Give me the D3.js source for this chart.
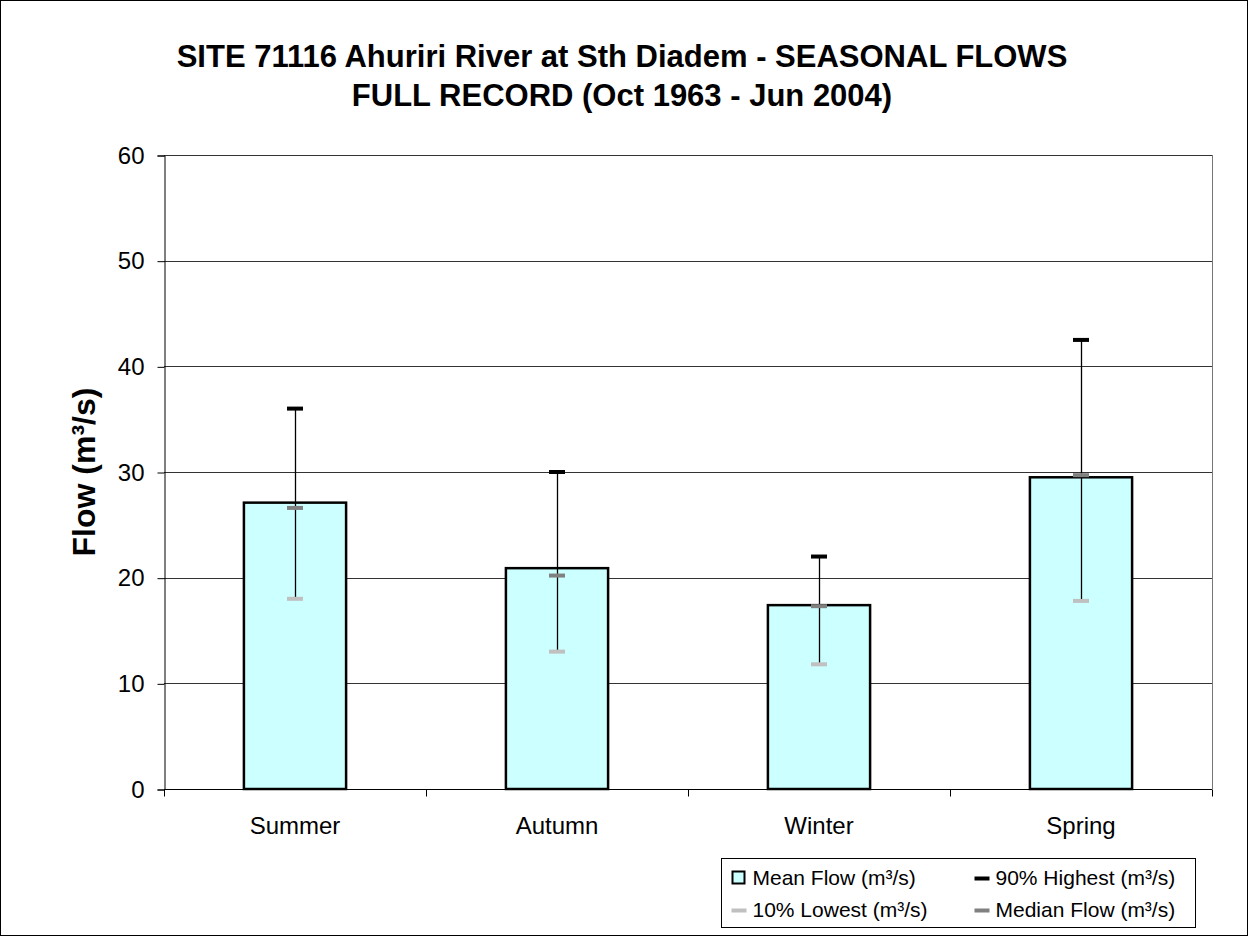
<!DOCTYPE html>
<html>
<head>
<meta charset="utf-8">
<script src="https://cdn.jsdelivr.net/npm/d3@7"></script>
<style>
  body { margin: 0; background: #fff; }
  text { font-family: Arial, "Liberation Sans", sans-serif; }
</style>
</head>
<body>
<div id="chart"></div>
<script>
// data
var seasons = ["Summer", "Autumn", "Winter", "Spring"];
var meanFlow = [27.1, 20.9, 17.4, 29.5];
var highest90 = [36.0, 30.0, 22.0, 42.5];
var lowest10 = [18.0, 13.0, 11.8, 17.8];
var medianFlow = [26.6, 20.2, 17.3, 29.7];
var yTicks = [0, 10, 20, 30, 40, 50, 60];

var W = 1248, H = 936;
var plot = { left: 164, right: 1212, top: 155, bottom: 789 };

var svg = d3.select("#chart").append("svg")
    .attr("width", W)
    .attr("height", H);

// outer frame
svg.append("rect")
    .attr("x", 0.5).attr("y", 0.5)
    .attr("width", W - 1).attr("height", H - 1)
    .attr("fill", "#fff").attr("stroke", "#000");

var x = d3.scaleBand()
    .domain(seasons)
    .range([plot.left, plot.right])
    .paddingInner(0.61)
    .paddingOuter(0.305);

var xCat = d3.scaleBand()
    .domain(seasons)
    .range([plot.left, plot.right]);

var y = d3.scaleLinear()
    .domain([0, 60])
    .range([plot.bottom, plot.top]);

// title
var title = svg.append("text")
    .attr("text-anchor", "middle")
    .attr("font-weight", "bold")
    .attr("font-size", 31);
title.append("tspan").attr("x", 622).attr("y", 67)
    .text("SITE 71116 Ahuriri River at Sth Diadem - SEASONAL FLOWS");
title.append("tspan").attr("x", 622).attr("y", 106)
    .text("FULL RECORD (Oct 1963 - Jun 2004)");

// gridlines
svg.append("g")
    .selectAll("line")
    .data(yTicks.filter(function(d) { return d > 0; }))
    .join("line")
    .attr("x1", plot.left).attr("x2", plot.right)
    .attr("y1", function(d) { return Math.round(y(d)) + 0.5; })
    .attr("y2", function(d) { return Math.round(y(d)) + 0.5; })
    .attr("stroke", "#333").attr("stroke-width", 1);

// right border of plot area
svg.append("line")
    .attr("x1", plot.right + 0.5).attr("x2", plot.right + 0.5)
    .attr("y1", plot.top).attr("y2", plot.bottom)
    .attr("stroke", "#777");

// y axis
var yAxis = svg.append("g")
    .attr("transform", "translate(" + (plot.left + 0.5) + ",0.5)")
    .call(d3.axisLeft(y).tickValues(yTicks).tickSize(7).tickPadding(13));
yAxis.select(".domain").attr("stroke", "#000");
yAxis.selectAll("text").attr("font-size", 24).attr("fill", "#000");

// y axis label
svg.append("text")
    .attr("transform", "translate(95," + ((plot.top + plot.bottom) / 2) + ") rotate(-90)")
    .attr("text-anchor", "middle")
    .attr("font-weight", "bold")
    .attr("font-size", 32)
    .text("Flow (m³/s)");

// bars
svg.append("g")
    .selectAll("rect")
    .data(seasons)
    .join("rect")
    .attr("x", function(d) { return x(d); })
    .attr("y", function(d, i) { return y(meanFlow[i]); })
    .attr("width", x.bandwidth())
    .attr("height", function(d, i) { return y(0) - y(meanFlow[i]); })
    .attr("fill", "#ccffff")
    .attr("stroke", "#000")
    .attr("stroke-width", 2.5);

// x axis
var xAxis = svg.append("g")
    .attr("transform", "translate(0," + (plot.bottom + 0.5) + ")");
xAxis.append("line")
    .attr("x1", plot.left).attr("x2", plot.right)
    .attr("stroke", "#000");
xAxis.selectAll(".tk")
    .data(seasons.concat(["end"]))
    .join("line")
    .attr("class", "tk")
    .attr("x1", function(d, i) { return Math.round(plot.left + i * xCat.bandwidth()) + 0.5; })
    .attr("x2", function(d, i) { return Math.round(plot.left + i * xCat.bandwidth()) + 0.5; })
    .attr("y1", 0).attr("y2", 7)
    .attr("stroke", "#000");
xAxis.selectAll("text")
    .data(seasons)
    .join("text")
    .attr("x", function(d) { return xCat(d) + xCat.bandwidth() / 2; })
    .attr("y", 44)
    .attr("text-anchor", "middle")
    .attr("font-size", 24)
    .text(function(d) { return d; });

// error lines and markers
var cx = function(d) { return Math.round(x(d) + x.bandwidth() / 2) + 0.5; };
var err = svg.append("g");
err.selectAll("line.whisker")
    .data(seasons)
    .join("line")
    .attr("class", "whisker")
    .attr("x1", cx).attr("x2", cx)
    .attr("y1", function(d, i) { return y(lowest10[i]); })
    .attr("y2", function(d, i) { return y(highest90[i]); })
    .attr("stroke", "#000").attr("stroke-width", 1.3);

function markers(vals, color) {
    err.append("g")
        .selectAll("rect")
        .data(seasons)
        .join("rect")
        .attr("x", function(d) { return cx(d) - 8.5; })
        .attr("y", function(d, i) { return y(vals[i]) - 2; })
        .attr("width", 16).attr("height", 4)
        .attr("fill", color);
}
markers(lowest10, "#c0c0c0");
markers(medianFlow, "#808080");
markers(highest90, "#000");

// legend
var legend = svg.append("g").attr("transform", "translate(721.5,858.5)");
legend.append("rect")
    .attr("width", 474).attr("height", 69)
    .attr("fill", "#fff").attr("stroke", "#000");

var legendItems = [
    { label: "Mean Flow (m³/s)", type: "box", color: "#ccffff", col: 0, row: 0 },
    { label: "90% Highest (m³/s)", type: "dash", color: "#000", col: 1, row: 0 },
    { label: "10% Lowest (m³/s)", type: "dash", color: "#c0c0c0", col: 0, row: 1 },
    { label: "Median Flow (m³/s)", type: "dash", color: "#808080", col: 1, row: 1 }
];
var li = legend.selectAll("g.item")
    .data(legendItems)
    .join("g")
    .attr("class", "item")
    .attr("transform", function(d) { return "translate(" + (d.col * 243) + "," + (d.row * 32) + ")"; });
li.each(function(d) {
    var g = d3.select(this);
    if (d.type === "box") {
        g.append("rect")
            .attr("x", 11).attr("y", 13)
            .attr("width", 12).attr("height", 12)
            .attr("fill", d.color).attr("stroke", "#000").attr("stroke-width", 2);
    } else {
        g.append("rect")
            .attr("x", 10).attr("y", 18)
            .attr("width", 15).attr("height", 4)
            .attr("fill", d.color);
    }
});
li.append("text")
    .attr("x", 31).attr("y", 26)
    .attr("font-size", 21)
    .text(function(d) { return d.label; });
</script>
</body>
</html>
